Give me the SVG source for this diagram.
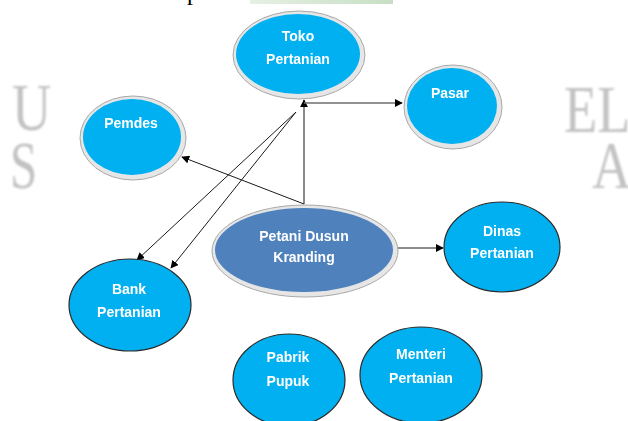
<svg xmlns="http://www.w3.org/2000/svg" width="628" height="421" viewBox="0 0 628 421">
<style>
.wm{font-family:"Liberation Serif",serif;fill:#c2c2c2;font-size:68px}
.lbl{font-family:"Liberation Sans",Arial,sans-serif;font-weight:bold;font-size:14px;fill:#ffffff;text-anchor:middle}
.ring{fill:#e6e6e6;stroke:#a8a8a8;stroke-width:1}
.cyan{fill:#00B0F0}
.plain{fill:#00B0F0;stroke:#2a2a2a;stroke-width:1.2}
.ln{fill:none;stroke:#1a1a1a;stroke-width:1}
.lng{fill:none;stroke:#6e6e6e;stroke-width:1.6}
</style>
<defs>
<marker id="ah" viewBox="0 0 10 10" refX="9" refY="5" markerWidth="8" markerHeight="8" markerUnits="userSpaceOnUse" orient="auto">
<path d="M0,0 L10,5 L0,10 z" fill="#000"/>
</marker>
<filter id="soft" x="-10%" y="-10%" width="120%" height="120%">
<feGaussianBlur stdDeviation="0.9"/>
</filter>
<linearGradient id="gband" x1="0" y1="0" x2="1" y2="0">
<stop offset="0" stop-color="#e6f0e3"/>
<stop offset="1" stop-color="#c7dfc5"/>
</linearGradient>
</defs>
<rect width="628" height="421" fill="#ffffff"/>
<g id="background">
<rect x="250" y="0" width="143" height="4" fill="url(#gband)"/>
<text x="187" y="0" font-family="'Liberation Serif',serif" font-size="24" fill="#000">p</text>
<g filter="url(#soft)">
<text class="wm" transform="translate(12,130) scale(0.8,1)">U</text>
<text class="wm" transform="translate(10,188) scale(0.72,1)">S</text>
<text class="wm" transform="translate(564,132) scale(0.8,1)">EL</text>
<text class="wm" transform="translate(592,188) scale(0.8,1)">A</text>
</g>
</g>
<g id="connectors">
<line class="lng" x1="304" y1="204" x2="304" y2="100" marker-end="url(#ah)"/>
<line class="lng" x1="304" y1="103" x2="402" y2="103" marker-end="url(#ah)"/>
<line class="ln" x1="304" y1="204" x2="182" y2="157" marker-end="url(#ah)"/>
<line class="ln" x1="296" y1="112" x2="137" y2="260" marker-end="url(#ah)"/>
<line class="ln" x1="296" y1="112" x2="171" y2="268" marker-end="url(#ah)"/>
<line class="ln" x1="396" y1="248" x2="443" y2="248" marker-end="url(#ah)"/>
</g>
<g id="toko">
<ellipse class="ring" cx="299" cy="55" rx="66" ry="44"/>
<ellipse class="cyan" cx="298" cy="54" rx="62" ry="40"/>
<text class="lbl" x="298" y="41">Toko</text>
<text class="lbl" x="298" y="64">Pertanian</text>
</g>
<g id="pasar">
<ellipse class="ring" cx="453" cy="107" rx="49" ry="42"/>
<ellipse class="cyan" cx="452" cy="106" rx="45" ry="38"/>
<text class="lbl" x="450" y="98">Pasar</text>
</g>
<g id="pemdes">
<ellipse class="ring" cx="133" cy="138" rx="53" ry="42"/>
<ellipse class="cyan" cx="132" cy="137" rx="49" ry="38"/>
<text class="lbl" x="131" y="128">Pemdes</text>
</g>
<g id="petani">
<ellipse class="ring" cx="305" cy="251" rx="93" ry="46"/>
<ellipse fill="#4F81BD" cx="304" cy="250" rx="89" ry="42"/>
<text class="lbl" x="304" y="241">Petani Dusun</text>
<text class="lbl" x="304" y="262">Kranding</text>
</g>
<g id="dinas">
<ellipse class="plain" cx="502" cy="247" rx="58" ry="45"/>
<text class="lbl" x="502" y="236">Dinas</text>
<text class="lbl" x="502" y="258">Pertanian</text>
</g>
<g id="bank">
<ellipse class="plain" cx="130" cy="305" rx="61" ry="46"/>
<text class="lbl" x="129" y="294">Bank</text>
<text class="lbl" x="129" y="317">Pertanian</text>
</g>
<g id="pabrik">
<ellipse class="plain" cx="289" cy="380" rx="56" ry="46"/>
<text class="lbl" x="288" y="362">Pabrik</text>
<text class="lbl" x="288" y="386">Pupuk</text>
</g>
<g id="menteri">
<ellipse class="plain" cx="421" cy="375" rx="61" ry="48"/>
<text class="lbl" x="421" y="359">Menteri</text>
<text class="lbl" x="421" y="383">Pertanian</text>
</g>
</svg>
